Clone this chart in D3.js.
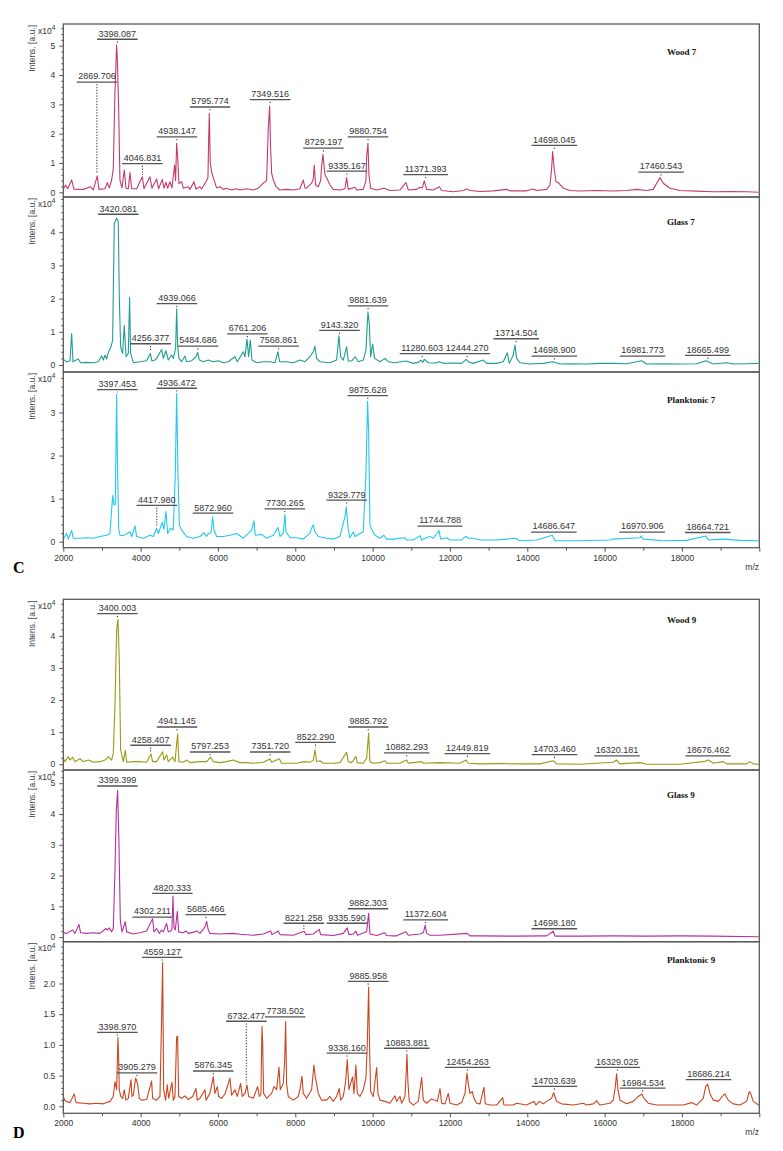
<!DOCTYPE html>
<html><head><meta charset="utf-8">
<script src="https://cdn.jsdelivr.net/npm/d3@7"></script>
<style>body{margin:0;background:#fff}svg{display:block}</style>
</head><body>
<svg id="chart" width="783" height="1151"></svg>
<script>
// ---------- DATA (m/z, intensity x10^4) ----------
const panelNames = ["Wood 7","Glass 7","Planktonic 7","Wood 9","Glass 9","Planktonic 9"];
const xTicks = [2000,4000,6000,8000,10000,12000,14000,16000,18000];

const wood7 = [[2000,0.12],[2060,0.25],[2112,0.12],[2216,0.42],[2276,0.11],[2517,0.10],[2707,0.19],[2776,0.08],[2879,0.56],[2922,0.10],[3078,0.12],[3138,0.33],[3190,0.15],[3250,0.42],[3293,0.8],[3336,3.43],[3379,5.02],[3396,4.57],[3431,2.92],[3465,0.42],[3517,0.15],[3577,0.76],[3621,0.14],[3681,0.12],[3724,0.67],[3767,0.12],[3896,0.12],[4043,0.53],[4086,0.12],[4241,0.53],[4293,0.14],[4414,0.45],[4465,0.12],[4560,0.44],[4603,0.14],[4655,0.34],[4698,0.14],[4758,0.36],[4810,0.15],[4879,0.93],[4905,0.4],[4931,1.67],[4957,1.22],[4991,0.3],[5060,0.36],[5103,0.14],[5233,0.19],[5276,0.10],[5379,0.36],[5431,0.11],[5534,0.19],[5577,0.11],[5689,0.36],[5741,0.5],[5758,1.73],[5776,2.69],[5801,1.0],[5844,0.65],[5879,0.5],[5965,0.15],[6051,0.19],[6138,0.10],[6224,0.14],[6353,0.08],[6482,0.12],[6569,0.08],[6741,0.12],[6913,0.08],[7043,0.14],[7172,0.31],[7258,0.4],[7301,2.18],[7336,2.94],[7362,1.5],[7388,0.65],[7431,0.42],[7500,0.2],[7603,0.08],[7775,0.10],[7948,0.08],[8120,0.12],[8206,0.42],[8249,0.15],[8292,0.14],[8422,0.31],[8465,0.45],[8491,0.93],[8525,0.25],[8594,0.19],[8655,0.4],[8681,0.87],[8715,1.3],[8767,0.6],[8827,0.45],[8896,0.25],[8982,0.10],[9155,0.08],[9284,0.12],[9327,0.5],[9370,0.1],[9543,0.17],[9586,0.08],[9758,0.10],[9827,0.4],[9845,1.22],[9879,1.67],[9905,0.6],[9948,0.14],[10103,0.08],[10293,0.14],[10449,0.06],[10707,0.08],[10862,0.33],[10923,0.08],[11138,0.10],[11224,0.17],[11285,0.15],[11336,0.39],[11397,0.10],[11569,0.08],[11724,0.19],[11785,0.06],[12086,0.02],[12345,0.06],[12431,0.11],[12517,0.06],[12776,0.03],[13121,0.05],[13466,0.10],[13552,0.05],[13983,0.05],[14155,0.11],[14241,0.06],[14500,0.1],[14586,0.25],[14629,0.8],[14655,1.39],[14690,0.87],[14741,0.36],[14802,0.33],[14931,0.14],[15103,0.06],[15362,0.045],[15793,0.06],[16224,0.045],[16569,0.06],[16827,0.10],[17086,0.06],[17258,0.1],[17345,0.31],[17431,0.5],[17517,0.31],[17689,0.14],[17948,0.06],[18379,0.04],[18810,0.02],[19241,0.03],[19672,0.02],[19982,0.0]];
const wood7Labels = [["2869.706",3.77],["3398.087",5.23],["4046.831",0.99],["4938.147",1.9],["5795.774",2.92],["7349.516",3.17],["8729.197",1.52],["9335.167",0.73],["9880.754",1.9],["11371.393",0.61],["14698.045",1.61],["17460.543",0.70]];

const glass7 = [[2000,0.17],[2086,0.1],[2172,0.12],[2216,0.95],[2250,0.1],[2388,0.18],[2448,0.07],[2603,0.08],[2776,0.07],[2905,0.1],[2991,0.28],[3034,0.15],[3078,0.3],[3121,0.18],[3164,0.38],[3233,0.55],[3276,0.75],[3319,4.27],[3353,4.35],[3379,4.42],[3422,4.32],[3448,2.06],[3483,0.55],[3534,0.35],[3577,1.2],[3621,0.25],[3681,0.35],[3715,2.04],[3741,0.35],[3810,0.07],[3983,0.1],[4155,0.13],[4250,0.35],[4293,0.12],[4371,0.15],[4414,0.2],[4543,0.47],[4586,0.2],[4655,0.43],[4715,0.15],[4802,0.3],[4845,0.2],[4905,0.5],[4931,1.69],[4957,0.6],[4991,0.2],[5060,0.1],[5146,0.27],[5189,0.1],[5319,0.13],[5431,0.25],[5474,0.38],[5517,0.15],[5620,0.1],[5750,0.15],[5879,0.1],[6008,0.13],[6138,0.07],[6267,0.1],[6439,0.25],[6500,0.1],[6655,0.4],[6698,0.25],[6750,0.78],[6793,0.25],[6836,0.75],[6879,0.15],[7000,0.07],[7172,0.1],[7344,0.1],[7474,0.07],[7551,0.4],[7594,0.1],[7775,0.1],[7948,0.07],[8120,0.15],[8250,0.1],[8379,0.25],[8465,0.4],[8508,0.57],[8551,0.2],[8637,0.1],[8896,0.07],[9068,0.15],[9129,0.88],[9172,0.25],[9241,0.15],[9327,0.55],[9370,0.12],[9456,0.12],[9543,0.25],[9629,0.1],[9758,0.15],[9827,0.45],[9879,1.6],[9913,1.25],[9948,0.25],[9999,0.63],[10051,0.2],[10189,0.1],[10318,0.2],[10404,0.1],[10577,0.07],[10862,0.12],[11052,0.05],[11181,0.08],[11250,0.15],[11293,0.08],[11336,0.17],[11440,0.07],[11612,0.06],[11724,0.1],[11828,0.05],[12086,0.06],[12302,0.05],[12414,0.17],[12474,0.1],[12604,0.05],[12862,0.15],[12948,0.05],[13207,0.05],[13379,0.1],[13483,0.37],[13535,0.05],[13638,0.3],[13681,0.6],[13724,0.2],[13810,0.07],[14069,0.03],[14414,0.05],[14655,0.1],[14845,0.03],[15190,0.04],[15534,0.03],[15879,0.05],[16224,0.05],[16569,0.04],[16957,0.13],[17086,0.03],[17517,0.04],[17948,0.03],[18379,0.04],[18620,0.13],[18810,0.03],[19155,0.07],[19327,0.03],[19672,0.04],[19982,0.05]];
const glass7Labels = [["3420.081",4.55],["4256.377",0.65],["4939.066",1.86],["5484.686",0.58],["6761.206",0.95],["7568.861",0.58],["9143.320",1.05],["9881.639",1.79],["11280.603",0.35],["12444.270",0.35],["13714.504",0.80],["14698.900",0.28],["16981.773",0.28],["18665.499",0.30]];

const plank7 = [[2000,0.06],[2086,0.19],[2129,0.06],[2216,0.26],[2259,0.08],[2431,0.08],[2603,0.09],[2776,0.08],[2948,0.12],[3121,0.15],[3207,0.19],[3276,1.07],[3310,0.85],[3345,0.87],[3379,3.42],[3396,2.13],[3431,0.31],[3465,0.15],[3552,0.14],[3724,0.23],[3767,0.12],[3853,0.37],[3896,0.12],[4069,0.08],[4241,0.15],[4327,0.12],[4414,0.31],[4457,0.19],[4560,0.45],[4603,0.29],[4655,0.7],[4698,0.19],[4776,0.31],[4845,0.27],[4896,1.55],[4931,3.44],[4965,1.62],[5000,0.39],[5060,0.27],[5189,0.12],[5362,0.08],[5534,0.12],[5638,0.21],[5707,0.12],[5750,0.19],[5819,0.2],[5862,0.58],[5896,0.27],[5965,0.12],[6138,0.12],[6310,0.15],[6482,0.19],[6655,0.08],[6870,0.27],[6931,0.48],[6965,0.15],[7129,0.17],[7258,0.08],[7431,0.15],[7551,0.33],[7603,0.12],[7689,0.2],[7732,0.63],[7758,0.23],[7862,0.09],[8034,0.09],[8206,0.06],[8379,0.2],[8422,0.31],[8465,0.39],[8508,0.23],[8594,0.12],[8810,0.08],[8982,0.06],[9155,0.12],[9284,0.58],[9318,0.81],[9370,0.27],[9413,0.09],[9500,0.23],[9543,0.12],[9758,0.23],[9827,1.55],[9870,3.26],[9896,2.55],[9931,0.39],[9974,0.29],[10060,0.15],[10189,0.08],[10292,0.15],[10361,0.06],[10534,0.06],[10837,0.09],[10880,0.04],[11052,0.04],[11224,0.14],[11268,0.04],[11354,0.08],[11483,0.12],[11569,0.08],[11716,0.26],[11759,0.06],[11914,0.09],[12000,0.04],[12302,0.04],[12414,0.13],[12474,0.08],[12604,0.08],[12776,0.04],[13207,0.04],[13466,0.06],[13681,0.08],[13810,0.02],[14241,0.04],[14647,0.15],[14716,0.02],[15362,0.02],[16138,0.04],[16224,0.06],[16914,0.09],[16940,0.13],[17000,0.06],[17517,0.02],[18120,0.03],[18620,0.13],[18681,0.04],[19069,0.06],[19500,0.03],[19982,0.02]];
const plank7Labels = [["3397.453",3.54],["4936.472",3.57],["9875.628",3.40],["4417.980",0.85],["5872.960",0.67],["7730.265",0.77],["9329.779",0.97],["11744.788",0.37],["14686.647",0.23],["16970.906",0.23],["18664.721",0.22]];

const wood9 = [[2000,0.19],[2043,0.08],[2129,0.24],[2172,0.13],[2241,0.22],[2302,0.08],[2431,0.17],[2517,0.08],[2647,0.13],[2776,0.06],[2948,0.08],[3078,0.13],[3164,0.24],[3250,0.13],[3293,0.34],[3336,1.8],[3379,4.18],[3414,4.52],[3448,3.25],[3483,0.45],[3552,0.08],[3603,0.43],[3638,0.06],[3810,0.08],[3983,0.08],[4155,0.06],[4267,0.32],[4310,0.08],[4414,0.08],[4569,0.39],[4603,0.13],[4672,0.29],[4715,0.08],[4827,0.22],[4888,0.08],[4957,0.94],[4991,0.08],[5103,0.06],[5189,0.13],[5276,0.05],[5534,0.08],[5707,0.08],[5810,0.22],[5879,0.08],[6051,0.05],[6224,0.08],[6396,0.13],[6569,0.05],[6741,0.05],[6913,0.03],[7172,0.06],[7344,0.16],[7388,0.06],[7586,0.17],[7646,0.03],[7862,0.03],[8034,0.03],[8206,0.08],[8379,0.06],[8465,0.12],[8508,0.45],[8551,0.08],[8637,0.11],[8724,0.03],[8982,0.03],[9155,0.05],[9327,0.37],[9370,0.08],[9456,0.05],[9568,0.24],[9603,0.05],[9758,0.03],[9845,0.19],[9896,0.97],[9931,0.08],[10017,0.03],[10189,0.05],[10318,0.11],[10361,0.03],[10534,0.03],[10707,0.03],[10880,0.13],[10923,0.03],[11052,0.05],[11268,0.08],[11311,0.03],[11742,0.05],[12086,0.04],[12259,0.03],[12414,0.13],[12474,0.03],[12776,0.01],[13293,0.02],[13638,0.01],[14328,0.01],[14672,0.11],[14759,0.01],[15362,0.0],[15793,0.03],[16224,0.06],[16310,0.13],[16396,0.01],[16914,0.05],[17086,0.0],[17948,0.0],[18595,0.09],[18681,0.13],[18810,0.03],[19069,0.08],[19155,0.01],[19672,0.01],[19758,0.08],[19845,0.01],[19982,0.0]];
const wood9Labels = [["3400.003",4.70],["4258.407",0.60],["4941.145",1.17],["5797.253",0.39],["7351.720",0.39],["8522.290",0.69],["9885.792",1.17],["10882.293",0.36],["12449.819",0.34],["14703.460",0.31],["16320.181",0.27],["18676.462",0.27]];

const glass9 = [[2000,0.15],[2086,0.12],[2241,0.23],[2302,0.12],[2405,0.41],[2448,0.14],[2603,0.12],[2776,0.14],[2948,0.12],[3103,0.28],[3138,0.23],[3190,0.30],[3250,0.17],[3293,0.28],[3336,2.17],[3371,4.11],[3405,4.76],[3440,3.03],[3474,0.55],[3517,0.17],[3560,0.33],[3603,0.5],[3638,0.17],[3810,0.1],[3983,0.14],[4155,0.2],[4310,0.6],[4345,0.17],[4414,0.28],[4483,0.12],[4543,0.23],[4586,0.17],[4672,0.44],[4715,0.17],[4784,0.2],[4810,0.28],[4836,1.33],[4862,0.33],[4896,0.23],[4948,0.84],[4983,0.17],[5103,0.14],[5172,0.2],[5233,0.12],[5405,0.17],[5448,0.2],[5534,0.12],[5664,0.33],[5707,0.51],[5750,0.23],[5793,0.12],[6051,0.1],[6396,0.12],[6569,0.09],[6913,0.06],[7172,0.1],[7362,0.2],[7396,0.08],[7560,0.2],[7603,0.08],[7948,0.06],[8232,0.19],[8275,0.08],[8465,0.1],[8620,0.25],[8655,0.08],[8982,0.05],[9241,0.12],[9344,0.3],[9387,0.08],[9500,0.1],[9568,0.19],[9611,0.06],[9844,0.17],[9896,0.77],[9931,0.1],[10103,0.05],[10318,0.14],[10361,0.05],[10534,0.04],[10621,0.04],[10862,0.17],[10923,0.06],[11224,0.1],[11311,0.14],[11362,0.39],[11397,0.12],[11483,0.06],[11742,0.06],[12449,0.12],[12517,0.04],[12776,0.04],[13638,0.03],[14500,0.04],[14672,0.19],[14716,0.03],[15362,0.03],[16224,0.04],[17086,0.03],[17948,0.04],[18810,0.03],[19982,0.01]];
const glass9Labels = [["3399.399",4.92],["4302.211",0.66],["4820.333",1.43],["5685.466",0.74],["8221.258",0.46],["9335.590",0.46],["9882.303",0.93],["11372.604",0.57],["14698.180",0.28]];

const plank9 = [[2000,0.16],[2043,0.09],[2172,0.06],[2284,0.2],[2328,0.06],[2517,0.05],[2690,0.04],[2862,0.05],[3034,0.04],[3207,0.08],[3293,0.16],[3336,0.4],[3379,0.27],[3414,1.12],[3431,0.81],[3448,0.27],[3483,0.16],[3534,0.13],[3577,0.27],[3621,0.1],[3681,0.13],[3750,0.43],[3776,0.16],[3810,0.18],[3871,0.46],[3905,0.4],[3931,0.32],[3965,0.13],[4026,0.1],[4155,0.11],[4284,0.41],[4310,0.13],[4414,0.1],[4500,0.16],[4543,1.46],[4569,2.34],[4595,0.27],[4646,0.1],[4689,0.35],[4724,0.13],[4810,0.39],[4845,0.1],[4888,0.16],[4931,1.13],[4957,1.14],[4983,0.16],[5060,0.13],[5146,0.17],[5233,0.11],[5345,0.16],[5431,0.29],[5465,0.1],[5534,0.13],[5664,0.27],[5690,0.1],[5793,0.21],[5827,0.32],[5879,0.48],[5922,0.21],[5983,0.32],[6017,0.16],[6095,0.13],[6181,0.2],[6310,0.46],[6353,0.18],[6439,0.27],[6500,0.16],[6586,0.37],[6629,0.16],[6698,0.21],[6750,0.35],[6793,0.16],[6913,0.13],[7026,0.32],[7069,0.16],[7112,0.2],[7138,1.3],[7155,1.05],[7181,0.21],[7258,0.13],[7388,0.21],[7448,0.32],[7517,0.27],[7577,0.64],[7612,0.27],[7689,0.37],[7724,0.73],[7750,1.38],[7775,0.37],[7818,0.16],[7948,0.1],[8077,0.16],[8120,0.27],[8172,0.49],[8206,0.21],[8292,0.13],[8422,0.27],[8482,0.67],[8517,0.48],[8551,0.37],[8594,0.21],[8681,0.1],[8810,0.1],[8896,0.16],[8982,0.08],[9068,0.16],[9137,0.29],[9172,0.1],[9241,0.16],[9301,0.4],[9344,0.76],[9387,0.27],[9430,0.37],[9482,0.48],[9517,0.21],[9568,0.67],[9603,0.21],[9672,0.16],[9758,0.27],[9827,0.46],[9862,1.02],[9896,1.94],[9922,0.92],[9948,0.24],[10017,0.16],[10103,0.63],[10137,0.21],[10189,0.1],[10318,0.08],[10448,0.05],[10534,0.13],[10577,0.17],[10620,0.08],[10707,0.16],[10750,0.05],[10837,0.16],[10871,0.59],[10888,0.85],[10914,0.37],[10949,0.08],[11052,0.02],[11181,0.08],[11268,0.47],[11311,0.10],[11397,0.05],[11526,0.12],[11612,0.1],[11673,0.08],[11742,0.29],[11785,0.05],[11871,0.04],[11957,0.21],[12000,0.05],[12173,0.02],[12302,0.06],[12388,0.21],[12440,0.54],[12474,0.37],[12517,0.21],[12578,0.24],[12621,0.13],[12690,0.05],[12776,0.04],[12879,0.31],[12914,0.04],[13035,0.02],[13207,0.02],[13362,0.14],[13397,0.02],[13638,0.02],[13724,0.05],[13983,0.02],[14172,0.08],[14224,0.02],[14310,0.08],[14414,0.04],[14500,0.08],[14629,0.13],[14681,0.22],[14759,0.08],[14888,0.04],[15190,0.02],[15448,0.05],[15534,0.02],[15707,0.04],[15793,0.09],[15879,0.02],[16138,0.05],[16224,0.1],[16276,0.32],[16310,0.53],[16345,0.27],[16396,0.1],[16569,0.04],[16741,0.08],[16871,0.16],[16966,0.2],[17017,0.13],[17129,0.05],[17345,0.02],[17776,0.02],[18034,0.02],[18250,0.06],[18379,0.02],[18551,0.13],[18612,0.32],[18664,0.36],[18724,0.21],[18810,0.1],[18939,0.08],[19069,0.18],[19112,0.2],[19198,0.1],[19327,0.04],[19500,0.02],[19672,0.08],[19741,0.24],[19775,0.21],[19845,0.08],[19982,0.02]];
const plank9Labels = [["3398.970",1.21],["3905.279",0.55],["4559.127",2.43],["5876.345",0.58],["6732.477",1.39],["7738.502",1.46],["9338.160",0.87],["9885.958",2.04],["10883.881",0.95],["12454.263",0.64],["14703.639",0.33],["16329.025",0.64],["16984.534",0.30],["18686.214",0.44]];

const yTicks7 = [[0,1,2,3,4,5],[0,1,2,3,4],[0,1,2,3]];
const yTicks9 = [[0,1,2,3,4],[0,1,2,3,4,5],[0,0.5,1.0,1.5,2.0]];

// ---------- LAYOUT ----------
const X0 = 63.3, X1 = 759.3;
const x = d3.scaleLinear().domain([2000, 20000]).range([X0, X1]);
const panels = [
  {data:wood7,  labels:wood7Labels,  color:"#c43a6e", top:24,    bottom:197,    yMin:-0.16, yMax:5.74, ticks:yTicks7[0], minor:0.2, fmt:d3.format("d"),   titleDy:31},
  {data:glass7, labels:glass7Labels, color:"#1f9e90", top:197,   bottom:372,    yMin:-0.21, yMax:5.06, ticks:yTicks7[1], minor:0.2, fmt:d3.format("d"),   titleDy:28},
  {data:plank7, labels:plank7Labels, color:"#22c8ef", top:372,   bottom:547.7,  yMin:-0.14, yMax:3.94, ticks:yTicks7[2], minor:0.2, fmt:d3.format("d"),   titleDy:31, xAxis:true, letter:"C"},
  {data:wood9,  labels:wood9Labels,  color:"#9c9a14", top:599.3, bottom:770,    yMin:-0.18, yMax:5.14, ticks:yTicks9[0], minor:0.2, fmt:d3.format("d"),   titleDy:24},
  {data:glass9, labels:glass9Labels, color:"#b4309f", top:770,   bottom:941.7,  yMin:-0.15, yMax:5.43, ticks:yTicks9[1], minor:0.2, fmt:d3.format("d"),   titleDy:28},
  {data:plank9, labels:plank9Labels, color:"#cb4520", top:941.7, bottom:1113.3, yMin:-0.114,yMax:2.68, ticks:yTicks9[2], minor:0.1, fmt:d3.format(".1f"), titleDy:21, xAxis:true, letter:"D"}
];

const svg = d3.select("#chart");
const SANS = "'Liberation Sans', Arial, sans-serif";
const SERIF = "'Liberation Serif', 'Times New Roman', serif";
const defs = svg.append("defs");

panels.forEach((p, i) => {
  const y = d3.scaleLinear().domain([p.yMin, p.yMax]).range([p.bottom, p.top]);
  const g = svg.append("g");
  const cid = "clip" + i;
  defs.append("clipPath").attr("id", cid).append("rect")
    .attr("x", X0).attr("y", p.top).attr("width", X1 - X0).attr("height", p.bottom - p.top);

  // spectrum
  g.append("path").datum(p.data)
    .attr("clip-path", `url(#${cid})`)
    .attr("d", d3.line().x(d => x(d[0])).y(d => y(d[1])))
    .attr("fill", "none").attr("stroke", p.color).attr("stroke-width", 1.1)
    .attr("stroke-linejoin", "round");

  // frame
  g.append("rect").attr("x", X0).attr("y", p.top).attr("width", X1 - X0).attr("height", p.bottom - p.top)
    .attr("fill", "none").attr("stroke", "#5a5a5a").attr("stroke-width", 1.3);

  // y axis minor + major
  const minorVals = d3.range(0, p.yMax, p.minor).filter(v => !p.ticks.some(t => Math.abs(t - v) < 1e-6));
  const gm = g.append("g").attr("transform", `translate(${X0},0)`)
    .call(d3.axisLeft(y).tickValues(minorVals).tickSize(2).tickFormat(""));
  gm.select(".domain").remove();
  gm.selectAll("line").attr("stroke", "#555");
  const ga = g.append("g").attr("transform", `translate(${X0},0)`)
    .call(d3.axisLeft(y).tickValues(p.ticks).tickSize(4).tickPadding(4).tickFormat(p.fmt));
  ga.select(".domain").remove();
  ga.selectAll("line").attr("stroke", "#555");
  ga.selectAll("text").attr("font-family", SANS).attr("font-size", 8.5).attr("fill", "#333");

  // x10^4
  const t4 = g.append("text").attr("x", 38).attr("y", p.top + 9.5)
    .attr("font-family", SANS).attr("font-size", 8.5).attr("fill", "#333");
  t4.append("tspan").text("x10");
  t4.append("tspan").attr("dy", -3.5).attr("font-size", 6.5).text("4");

  // Intens. [a.u.]
  g.append("text").attr("transform", `translate(35,${p.top + 1}) rotate(-90)`)
    .attr("text-anchor", "end").attr("font-family", SANS).attr("font-size", 8.5).attr("fill", "#444")
    .text("Intens. [a.u.]");

  // panel title
  g.append("text").attr("x", 667).attr("y", p.top + p.titleDy)
    .attr("font-family", SERIF).attr("font-weight", "bold").attr("font-size", 9).attr("fill", "#111")
    .text(panelNames[i]);

  // peak annotations
  p.labels.forEach(([txt, level]) => {
    const mz = +txt;
    const near = p.data.filter(d => Math.abs(d[0] - mz) <= 60);
    const peak = near.length ? d3.max(near, d => d[1]) : level;
    const cx = x(mz), ly = y(level);
    const t = g.append("text").attr("x", cx).attr("y", ly - 2.3).attr("text-anchor", "middle")
      .attr("font-family", SANS).attr("font-size", 9).attr("fill", "#333").text(txt);
    const w = t.node().getComputedTextLength();
    g.append("line").attr("x1", cx - w / 2 - 1.5).attr("x2", cx + w / 2 + 1.5)
      .attr("y1", ly + 0.3).attr("y2", ly + 0.3).attr("stroke", "#555").attr("stroke-width", 1.3);
    const py = y(peak) - 2;
    if (py > ly + 3) {
      g.append("line").attr("x1", cx).attr("x2", cx).attr("y1", ly + 2.5).attr("y2", py)
        .attr("stroke", "#222").attr("stroke-width", 1).attr("stroke-dasharray", "1.2,1.6");
    }
  });

  if (p.xAxis) {
    const gx = g.append("g").attr("transform", `translate(0,${p.bottom})`)
      .call(d3.axisBottom(x).tickValues(xTicks.concat([20000])).tickSize(4).tickPadding(3).tickFormat((d) => d < 20000 ? d : ""));
    gx.select(".domain").remove();
    gx.selectAll("line").attr("stroke", "#555");
    gx.selectAll("text").attr("font-family", SANS).attr("font-size", 8.5).attr("fill", "#333");
    const gxm = g.append("g").attr("transform", `translate(0,${p.bottom})`)
      .call(d3.axisBottom(x).tickValues(xTicks.map(v => v + 1000)).tickSize(3).tickFormat(""));
    gxm.select(".domain").remove();
    gxm.selectAll("line").attr("stroke", "#555");
    g.append("text").attr("x", 759).attr("y", p.bottom + 22).attr("text-anchor", "end")
      .attr("font-family", SANS).attr("font-size", 8.5).attr("fill", "#333").text("m/z");
    g.append("text").attr("x", 13).attr("y", p.bottom + 25)
      .attr("font-family", SERIF).attr("font-weight", "bold").attr("font-size", 16).attr("fill", "#000")
      .text(p.letter);
  }
});
</script>
</body></html>
